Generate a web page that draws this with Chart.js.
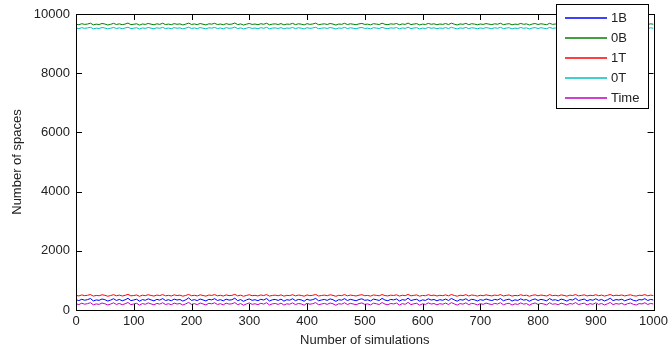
<!DOCTYPE html>
<html>
<head>
<meta charset="utf-8">
<script src="https://cdn.jsdelivr.net/npm/chart.js@4.4.0/dist/chart.umd.min.js"></script>
<style>
  html, body { margin: 0; padding: 0; background: #fff; }
  #wrap { width: 672px; height: 352px; }
</style>
</head>
<body>
<div id="wrap"><canvas id="simChart" width="672" height="352"></canvas></div>
<script>
// sampled every 5 simulations
const simulations = Array.from({ length: 201 }, (_, i) => i * 5);

const oneB = [
  345, 318, 362, 330, 351, 389, 307, 340, 326, 372,
  348, 302, 335, 381, 322, 357, 312, 343, 396, 316,
  338, 364, 297, 352, 328, 377, 341, 309, 359, 333,
  386, 320, 347, 313, 369, 337, 355, 301, 344, 408,
  324, 350, 317, 371, 339, 305, 360, 342, 383, 321,
  349, 310, 366, 334, 346, 399, 315, 353, 293, 340,
  374, 327, 348, 314, 363, 336, 388, 304, 345, 358,
  323, 368, 300, 347, 331, 380, 316, 356, 342, 296,
  365, 329, 350, 392, 311, 338, 357, 325, 375, 346,
  291, 349, 332, 384, 319, 361, 337, 312, 354, 378,
  326, 344, 306, 367, 348, 321, 393, 335, 315, 357,
  340, 373, 303, 351, 330, 402, 318, 347, 364, 299,
  343, 324, 379, 336, 356, 310, 349, 328, 371, 320,
  390, 341, 298, 353, 333, 381, 314, 362, 345, 305,
  350, 327, 372, 342, 318, 359, 338, 387, 311, 346,
  366, 302, 344, 323, 377, 334, 352, 295, 348, 374,
  322, 360, 339, 309, 385, 331, 347, 313, 368, 343,
  300, 355, 335, 395, 319, 345, 370, 308, 351, 329,
  380, 325, 357, 306, 342, 398, 316, 353, 337, 364,
  311, 346, 376, 327, 304, 352, 340, 384, 321, 358,
  336
];
const zeroB = [
  9655, 9638, 9672, 9649, 9661, 9690, 9633, 9657, 9645, 9679,
  9662, 9628, 9651, 9684, 9646, 9667, 9639, 9659, 9694, 9641,
  9653, 9670, 9625, 9663, 9648, 9681, 9656, 9634, 9668, 9650,
  9687, 9643, 9660, 9637, 9675, 9652, 9666, 9629, 9658, 9692,
  9647, 9664, 9640, 9678, 9654, 9631, 9669, 9657, 9685, 9644,
  9662, 9636, 9673, 9650, 9659, 9696, 9642, 9665, 9627, 9656,
  9680, 9648, 9661, 9639, 9671, 9653, 9688, 9635, 9658, 9667,
  9645, 9676, 9632, 9660, 9652, 9683, 9641, 9669, 9657, 9630,
  9674, 9649, 9663, 9691, 9637, 9655, 9668, 9646, 9679, 9659,
  9626, 9662, 9651, 9686, 9643, 9670, 9654, 9638, 9666, 9681,
  9648, 9657, 9633, 9672, 9660, 9645, 9689, 9652, 9640, 9667,
  9655, 9679, 9636, 9664, 9649, 9693, 9642, 9661, 9674, 9631,
  9658, 9646, 9682, 9653, 9668, 9637, 9662, 9650, 9677, 9644,
  9690, 9656, 9629, 9665, 9651, 9684, 9640, 9671, 9659, 9635,
  9663, 9648, 9676, 9657, 9642, 9669, 9654, 9687, 9639, 9660,
  9673, 9634, 9658, 9647, 9681, 9652, 9666, 9628, 9661, 9678,
  9645, 9670, 9655, 9638, 9685, 9650, 9662, 9641, 9674, 9657,
  9632, 9667, 9653, 9688, 9644, 9659, 9676, 9639, 9663, 9650,
  9682, 9647, 9669, 9636, 9658, 9691, 9643, 9665, 9654, 9671,
  9640, 9660, 9679, 9649, 9635, 9664, 9656, 9686, 9645, 9668,
  9653
];
const oneT = [
  494, 476, 509, 485, 498, 522, 469, 492, 481, 514,
  497, 465, 488, 518, 480, 503, 473, 496, 527, 478,
  490, 507, 462, 500, 484, 516, 491, 471, 505, 487,
  520, 479, 495, 474, 511, 489, 501, 467, 493, 525,
  482, 498, 476, 513, 490, 468, 506, 492, 519, 480,
  497, 472, 510, 486, 494, 529, 477, 501, 464, 491,
  515, 483, 496, 475, 508, 488, 521, 470, 493, 502,
  481, 512, 468, 495, 487, 517, 477, 504, 492, 466,
  509, 484, 498, 524, 473, 490, 503, 482, 514, 494,
  463, 497, 486, 520, 479, 505, 489, 474, 501, 516,
  483, 492, 469, 508, 495, 480, 522, 487, 476, 502,
  490, 513, 471, 499, 484, 526, 478, 496, 509, 467,
  493, 481, 517, 488, 503, 473, 497, 485, 511, 479,
  523, 491, 466, 500, 486, 518, 475, 506, 494, 470,
  498, 483, 512, 492, 477, 504, 489, 521, 474, 495,
  508, 469, 493, 482, 515, 487, 501, 464, 496, 512,
  480, 506, 490, 473, 519, 485, 497, 476, 510, 492,
  468, 502, 488, 522, 479, 494, 511, 475, 498, 486,
  516, 482, 504, 471, 493, 524, 478, 500, 489, 507,
  476, 495, 514, 484, 470, 499, 491, 520, 480, 503,
  488
];
const zeroT = [
  9524, 9506, 9538, 9515, 9529, 9551, 9499, 9522, 9511, 9543,
  9527, 9495, 9518, 9547, 9510, 9533, 9503, 9526, 9555, 9508,
  9520, 9536, 9492, 9530, 9514, 9545, 9521, 9501, 9534, 9517,
  9549, 9509, 9525, 9504, 9540, 9519, 9531, 9497, 9523, 9553,
  9512, 9528, 9506, 9542, 9520, 9498, 9535, 9522, 9548, 9510,
  9527, 9502, 9539, 9516, 9524, 9557, 9507, 9531, 9494, 9521,
  9544, 9513, 9526, 9505, 9537, 9518, 9550, 9500, 9523, 9532,
  9511, 9541, 9498, 9525, 9517, 9546, 9507, 9534, 9522, 9496,
  9538, 9514, 9528, 9552, 9503, 9520, 9533, 9512, 9543, 9524,
  9493, 9527, 9516, 9549, 9509, 9535, 9519, 9504, 9531, 9545,
  9513, 9522, 9499, 9537, 9525, 9510, 9551, 9517, 9506, 9532,
  9520, 9542, 9501, 9529, 9514, 9554, 9508, 9526, 9538, 9497,
  9523, 9511, 9546, 9518, 9533, 9503, 9527, 9515, 9540, 9509,
  9552, 9521, 9496, 9530, 9516, 9547, 9505, 9536, 9524, 9500,
  9528, 9513, 9541, 9522, 9507, 9534, 9519, 9550, 9504, 9525,
  9537, 9499, 9523, 9512, 9544, 9517, 9531, 9494, 9526, 9541,
  9510, 9535, 9520, 9503, 9548, 9515, 9527, 9506, 9539, 9522,
  9498, 9532, 9518, 9551, 9509, 9524, 9540, 9505, 9528, 9516,
  9545, 9512, 9534, 9501, 9523, 9553, 9508, 9530, 9519, 9536,
  9506, 9525, 9543, 9514, 9500, 9529, 9521, 9549, 9510, 9533,
  9518
];
const timeVals = [
  208, 184, 229, 196, 214, 247, 176, 205, 190, 236,
  211, 170, 201, 242, 187, 222, 179, 209, 253, 182,
  203, 227, 165, 218, 193, 240, 206, 174, 224, 198,
  245, 185, 212, 178, 233, 202, 219, 168, 207, 256,
  189, 215, 181, 237, 204, 171, 226, 208, 243, 186,
  213, 175, 231, 199, 210, 250, 180, 217, 162, 204,
  238, 192, 211, 180, 228, 200, 246, 169, 207, 221,
  188, 232, 166, 209, 195, 241, 183, 220, 205, 163,
  229, 194, 214, 249, 177, 201, 223, 190, 236, 210,
  160, 212, 197, 244, 184, 225, 203, 177, 218, 239,
  191, 206, 172, 230, 211, 186, 252, 199, 180, 221,
  204, 235, 168, 215, 193, 258, 182, 210, 227, 164,
  207, 189, 240, 201, 219, 174, 213, 195, 233, 185,
  248, 206, 166, 217, 197, 242, 179, 225, 209, 171,
  214, 191, 234, 205, 183, 223, 202, 246, 176, 211,
  228, 167, 208, 188, 239, 198, 216, 161, 212, 237,
  187, 224, 203, 173, 244, 194, 210, 178, 231, 206,
  169, 219, 200, 251, 184, 209, 233, 172, 215, 193,
  242, 190, 221, 170, 207, 254, 181, 217, 199, 226,
  175, 211, 238, 192, 168, 216, 204, 245, 186, 222,
  201
];

const seriesNames = ["1B", "0B", "1T", "0T", "Time"];
const seriesColors = ["#0000ff", "#008000", "#ff0000", "#00bfbf", "#bf00bf"];
const seriesValues = [oneB, zeroB, oneT, zeroT, timeVals];

const FONT = "'Liberation Sans', Arial, sans-serif";
const TEXT = "#222";

// matlab style box with inward ticks
const boxTicks = {
  id: "boxTicks",
  afterDraw(chart) {
    const { ctx, chartArea: a, scales } = chart;
    ctx.save();
    ctx.strokeStyle = "#000";
    ctx.lineWidth = 1;
    ctx.beginPath();
    scales.x.ticks.forEach(t => {
      const px = Math.round(scales.x.getPixelForValue(t.value)) + 0.5;
      ctx.moveTo(px, a.bottom); ctx.lineTo(px, a.bottom - 6);
      ctx.moveTo(px, a.top); ctx.lineTo(px, a.top + 6);
    });
    scales.y.ticks.forEach(t => {
      const py = Math.round(scales.y.getPixelForValue(t.value)) + 0.5;
      ctx.moveTo(a.left, py); ctx.lineTo(a.left + 6, py);
      ctx.moveTo(a.right, py); ctx.lineTo(a.right - 6, py);
    });
    ctx.stroke();
    ctx.strokeRect(Math.round(a.left) + 0.5, Math.round(a.top) + 0.5,
      Math.round(a.right - a.left), Math.round(a.bottom - a.top));
    ctx.restore();
  }
};

// legend box drawn over the top right of the axes
const boxLegend = {
  id: "boxLegend",
  afterDraw(chart) {
    const ctx = chart.ctx;
    const x0 = 556.5, y0 = 4.5, w = 92, h = 104;
    ctx.save();
    ctx.fillStyle = "#fff";
    ctx.fillRect(x0, y0, w, h);
    ctx.lineWidth = 1;
    ctx.strokeStyle = "#000";
    ctx.strokeRect(x0, y0, w, h);
    ctx.font = "13px " + FONT;
    ctx.textBaseline = "middle";
    seriesNames.forEach((name, i) => {
      const y = 2 * Math.round((17 + i * 20.2) / 2);
      ctx.beginPath();
      ctx.strokeStyle = seriesColors[i];
      ctx.lineWidth = 1.4;
      ctx.moveTo(565, y);
      ctx.lineTo(607, y);
      ctx.stroke();
      ctx.fillStyle = TEXT;
      ctx.fillText(name, 611, y);
    });
    ctx.restore();
  }
};

const ctx = document.getElementById("simChart").getContext("2d");
new Chart(ctx, {
  type: "line",
  data: {
    datasets: seriesNames.map((name, i) => ({
      label: name,
      data: simulations.map((s, j) => ({ x: s, y: seriesValues[i][j] })),
      borderColor: seriesColors[i],
      backgroundColor: seriesColors[i],
      borderWidth: 1,
      pointRadius: 0,
      tension: 0,
      fill: false
    }))
  },
  options: {
    responsive: false,
    animation: false,
    layout: { padding: { top: 14, right: 15, left: 0, bottom: 0 } },
    plugins: {
      legend: { display: false },
      tooltip: { enabled: false }
    },
    scales: {
      x: {
        type: "linear",
        min: 0, max: 1000,
        ticks: { stepSize: 100, color: TEXT, padding: 4, maxRotation: 0,
                 callback: v => String(v),
                 font: { family: FONT, size: 13 } },
        grid: { display: false, drawTicks: false, tickLength: 0 },
        border: { display: false },
        title: { display: true, text: "Number of simulations", color: TEXT,
                 padding: { top: 0, bottom: 4 },
                 font: { family: FONT, size: 13 } },
        afterFit: s => { s.height = 42; }
      },
      y: {
        min: 0, max: 10000,
        ticks: { stepSize: 2000, color: TEXT, padding: 6,
                 callback: v => String(v),
                 font: { family: FONT, size: 13 } },
        grid: { display: false, drawTicks: false, tickLength: 0 },
        border: { display: false },
        title: { display: true, text: "Number of spaces", color: TEXT,
                 padding: { top: 10, bottom: 0 },
                 font: { family: FONT, size: 13 } },
        afterFit: s => { s.width = 76; }
      }
    }
  },
  plugins: [boxTicks, boxLegend]
});
</script>
</body>
</html>
